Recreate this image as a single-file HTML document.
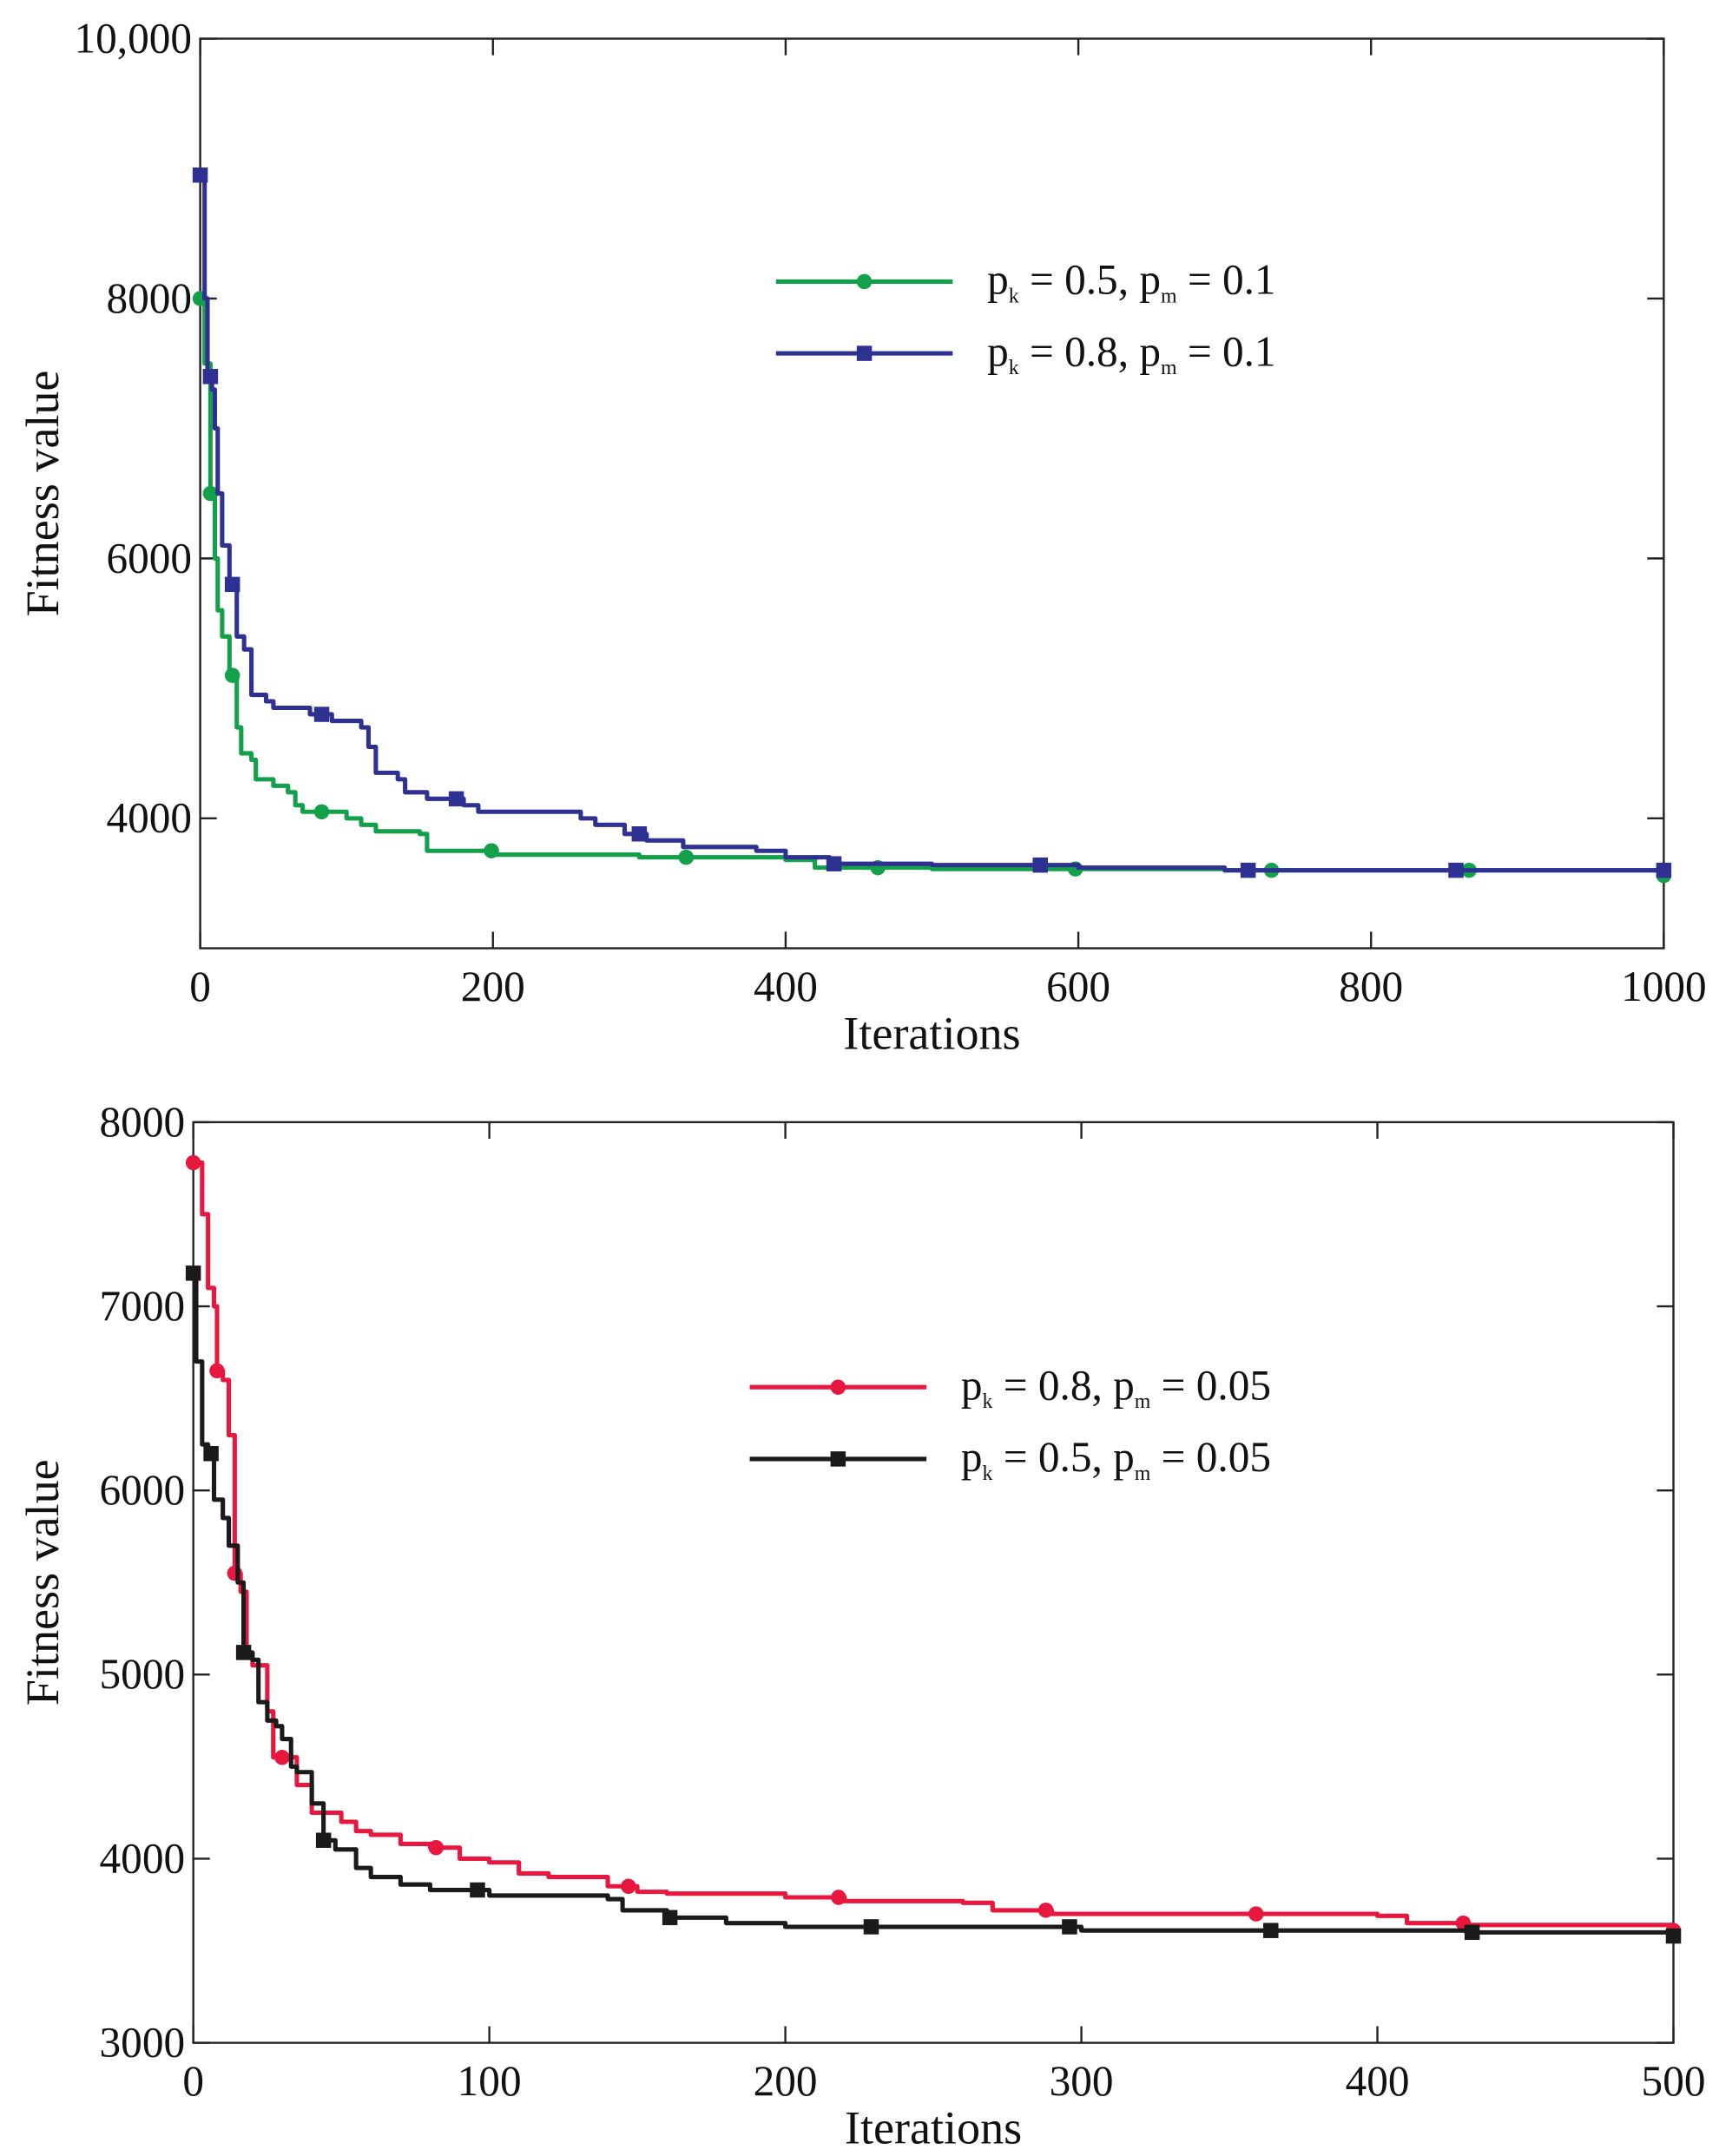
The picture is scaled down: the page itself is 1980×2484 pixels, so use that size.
<!DOCTYPE html>
<html><head><meta charset="utf-8"><style>
html,body{margin:0;padding:0;background:#fff}
svg{display:block}
text{font-family:"Liberation Serif",serif;fill:#111}
</style></head><body>
<svg id="c" width="1980" height="2484" viewBox="0 0 1245 1562" preserveAspectRatio="none" xmlns="http://www.w3.org/2000/svg"></svg>
<script>
// ---- Top chart data ----
const greenX=[0,3,7,10,12,15,20,25,28,35,38,50,60,65,70,90,100,110,120,150,155,200,300,400,420,500,700,1000];
const greenY=[8000,7500,6500,6000,5600,5400,5100,4700,4500,4450,4300,4250,4200,4100,4050,4050,4000,3950,3900,3880,3750,3720,3700,3680,3620,3610,3600,3560];
const greenMarks=[0,7,22,83,199,332,463,598,732,867,1000];
const blueX=[0,3,5,8,10,12,15,20,25,30,35,45,50,70,75,90,110,115,120,135,140,155,180,190,260,270,290,305,330,380,400,430,500,600,700,1000];
const blueY=[8950,8000,7400,7300,7000,6500,6100,5800,5400,5300,4950,4900,4850,4850,4800,4750,4700,4550,4350,4300,4200,4150,4100,4050,4000,3950,3880,3830,3780,3750,3700,3650,3640,3620,3600,3600];
const blueMarks=[0,7,22,83,175,300,433,574,716,858,1000];
const topXTicks=[0,200,400,600,800,1000];
const topYTicks=[4000,6000,8000,10000];
const topYLabels=["4000","6000","8000","10,000"];
// ---- Bottom chart data ----
const redX=[0,3,5,7,8,10,12,14,16,18,20,25,27,30,35,40,50,55,60,70,80,90,100,110,120,140,150,160,200,220,260,270,290,400,410,430,500];
const redY=[7780,7500,7100,7000,6650,6600,6300,5550,5450,5100,5050,4800,4550,4550,4400,4250,4200,4150,4130,4080,4060,4000,3980,3920,3900,3850,3820,3810,3790,3770,3760,3720,3700,3690,3650,3640,3610];
const redMarks=[0,8,14,30,82,147,218,288,359,429,500];
const blackX=[0,1,3,5,7,10,12,15,17,20,22,25,28,30,33,35,40,44,48,55,60,70,80,100,140,145,160,180,200,300,430,500];
const blackY=[7180,6700,6250,6200,5950,5850,5700,5500,5120,5080,4850,4750,4720,4650,4500,4470,4300,4100,4050,3950,3900,3860,3830,3800,3780,3720,3680,3650,3630,3610,3600,3580];
const blackMarks=[0,6,17,44,96,161,229,296,364,432,500];
const botXTicks=[0,100,200,300,400,500];
const botYTicks=[3000,4000,5000,6000,7000,8000];

const svg=document.getElementById('c');
const NS='http://www.w3.org/2000/svg';
function el(tag,attrs,parent){const e=document.createElementNS(NS,tag);for(const k in attrs)e.setAttribute(k,attrs[k]);(parent||svg).appendChild(e);return e;}
function stepVal(xs,ys,x){let v=ys[0];for(let i=0;i<xs.length;i++){if(xs[i]<=x)v=ys[i];}return v;}

function chart(cfg){
  const g=el('g',{});
  
  
  const sx=v=>cfg.x0+(v-cfg.xmin)/(cfg.xmax-cfg.xmin)*(cfg.x1-cfg.x0);
  const sy=v=>cfg.y1-(v-cfg.ymin)/(cfg.ymax-cfg.ymin)*(cfg.y1-cfg.y0);
  const frame=el('rect',{x:cfg.x0,y:cfg.y0,width:cfg.x1-cfg.x0,height:cfg.y1-cfg.y0,fill:'none',stroke:'#222','stroke-width':1.5},g);
  
  
  cfg.xt.forEach(v=>{const x=sx(v);
    el('line',{x1:x,x2:x,y1:cfg.y1,y2:cfg.y1-12,stroke:'#222','stroke-width':1.5},g);
    el('line',{x1:x,x2:x,y1:cfg.y0,y2:cfg.y0+12,stroke:'#222','stroke-width':1.5},g);
    const t=el('text',{x:x,y:cfg.y1+38,'text-anchor':'middle','font-size':31},g);t.textContent=v;
    
    
  });
  cfg.yt.forEach((v,i)=>{const y=sy(v);
    el('line',{x1:cfg.x0,x2:cfg.x0+12,y1:y,y2:y,stroke:'#222','stroke-width':1.5},g);
    el('line',{x1:cfg.x1,x2:cfg.x1-12,y1:y,y2:y,stroke:'#222','stroke-width':1.5},g);
    const t=el('text',{x:cfg.x0-6,y:y+10,'text-anchor':'end','font-size':31},g);t.textContent=cfg.yl?cfg.yl[i]:v;
    
    
  });
  const xt=el('text',{x:(cfg.x0+cfg.x1)/2,y:cfg.y1+73,'text-anchor':'middle','font-size':34},g);xt.textContent='Iterations';
  
  
  const ym=(cfg.y0+cfg.y1)/2;
  const yt=el('text',{x:42,y:ym,'text-anchor':'middle','font-size':34,transform:`rotate(-90 42 ${ym})`},g);yt.textContent='Fitness value';
  
  
  cfg.series.forEach((s,si)=>{
    let d='M'+sx(s.x[0]).toFixed(1)+','+sy(s.y[0]).toFixed(1);
    for(let i=1;i<s.x.length;i++){d+='H'+sx(s.x[i]).toFixed(1)+'V'+sy(s.y[i]).toFixed(1);}
    const p=el('path',{d:d,fill:'none',stroke:s.color,'stroke-width':3.2,'stroke-linejoin':'round'},g);
    
    
    s.marks.forEach(m=>{const x=sx(m),y=sy(stepVal(s.x,s.y,m));
      let mk;
      if(s.shape==='circle')mk=el('circle',{cx:x,cy:y,r:5.5,fill:s.color},g);
      else mk=el('rect',{x:x-5.5,y:y-5.5,width:11,height:11,fill:s.color},g);
      
      
    });
    const ly=cfg.ly[si];
    const lg=el('g',{},g);
    
    
    el('line',{x1:cfg.lx,x2:cfg.lx+128,y1:ly,y2:ly,stroke:s.color,'stroke-width':3.2},lg);
    if(s.shape==='circle')el('circle',{cx:cfg.lx+64,cy:ly,r:5.5,fill:s.color},lg);
    else el('rect',{x:cfg.lx+58.5,y:ly-5.5,width:11,height:11,fill:s.color},lg);
    const t=el('text',{x:cfg.lx+153,y:ly+9,'font-size':31},lg);
    t.innerHTML=`p<tspan font-size="15" dy="6">k</tspan><tspan dy="-6"> = ${s.pk}, p</tspan><tspan font-size="15" dy="6">m</tspan><tspan dy="-6"> = ${s.pm}</tspan>`;
  });
}
chart({name:'top-chart',x0:145,x1:1205,y0:28,y1:687,xmin:0,xmax:1000,ymin:3000,ymax:10000,xt:topXTicks,yt:topYTicks,yl:topYLabels,lx:562,ly:[204,256],
  series:[{name:'green-series',x:greenX,y:greenY,marks:greenMarks,color:'#12a14a',shape:'circle',pk:'0.5',pm:'0.1'},
          {name:'blue-series',x:blueX,y:blueY,marks:blueMarks,color:'#2e3192',shape:'square',pk:'0.8',pm:'0.1'}]});
chart({name:'bottom-chart',x0:140,x1:1212,y0:813,y1:1480,xmin:0,xmax:500,ymin:3000,ymax:8000,xt:botXTicks,yt:botYTicks,lx:543,ly:[1005,1057],
  series:[{name:'red-series',x:redX,y:redY,marks:redMarks,color:'#e8173f',shape:'circle',pk:'0.8',pm:'0.05'},
          {name:'black-series',x:blackX,y:blackY,marks:blackMarks,color:'#1a1a1a',shape:'square',pk:'0.5',pm:'0.05'}]});
</script>
</body></html>
